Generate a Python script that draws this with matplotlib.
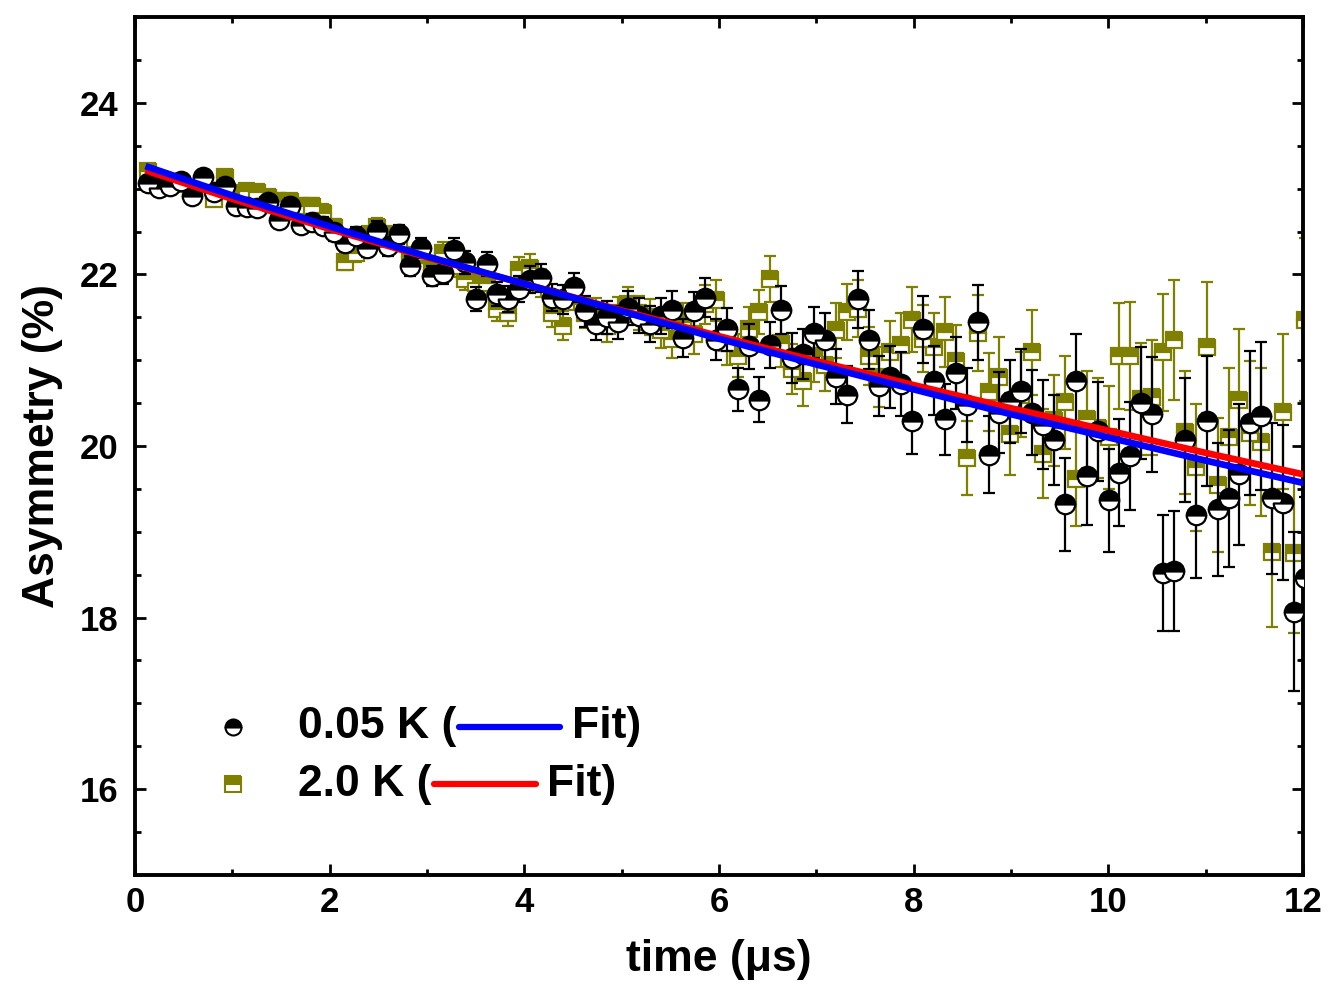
import matplotlib
matplotlib.use("Agg")
import matplotlib.pyplot as plt
from matplotlib.ticker import MultipleLocator
from matplotlib.lines import Line2D

# tiempos de los bins (us)
time_us = [0.137, 0.249, 0.361, 0.473, 0.585, 0.698, 0.810, 0.922, 1.034, 1.146,
           1.258, 1.370, 1.482, 1.594, 1.706, 1.819, 1.931, 2.043, 2.155, 2.267,
           2.379, 2.491, 2.603, 2.715, 2.827, 2.940, 3.052, 3.164, 3.276, 3.388,
           3.500, 3.612, 3.724, 3.836, 3.948, 4.061, 4.173, 4.285, 4.397, 4.509,
           4.621, 4.733, 4.845, 4.957, 5.069, 5.182, 5.294, 5.406, 5.518, 5.630,
           5.742, 5.854, 5.966, 6.078, 6.190, 6.303, 6.415, 6.527, 6.639, 6.751,
           6.863, 6.975, 7.087, 7.199, 7.311, 7.424, 7.536, 7.648, 7.760, 7.872,
           7.984, 8.096, 8.208, 8.320, 8.432, 8.545, 8.657, 8.769, 8.881, 8.993,
           9.105, 9.217, 9.329, 9.441, 9.553, 9.666, 9.778, 9.890, 10.002, 10.114,
           10.226, 10.338, 10.450, 10.562, 10.674, 10.787, 10.899, 11.011, 11.123, 11.235,
           11.347, 11.459, 11.571, 11.683, 11.795, 11.908, 12.020]

# asimetria a 0.05 K (%)
asym_005K = [23.07, 23.01, 23.03, 23.09, 22.91, 23.14, 22.96, 23.03, 22.80, 22.78,
             22.77, 22.84, 22.63, 22.80, 22.58, 22.61, 22.57, 22.49, 22.37, 22.45,
             22.31, 22.51, 22.33, 22.47, 22.10, 22.31, 21.98, 22.02, 22.29, 22.14,
             21.71, 22.12, 21.77, 21.71, 21.83, 21.94, 21.96, 21.73, 21.71, 21.85,
             21.57, 21.42, 21.50, 21.44, 21.61, 21.52, 21.42, 21.52, 21.59, 21.26,
             21.57, 21.73, 21.24, 21.36, 20.66, 21.16, 20.54, 21.18, 21.59, 21.03,
             21.07, 21.32, 21.24, 20.81, 20.60, 21.71, 21.24, 20.70, 20.80, 20.72,
             20.29, 21.36, 20.76, 20.31, 20.85, 20.48, 21.44, 19.90, 20.39, 20.52,
             20.64, 20.39, 20.25, 20.07, 19.32, 20.76, 19.65, 20.17, 19.37, 19.69,
             19.88, 20.50, 20.37, 18.52, 18.54, 20.07, 19.20, 20.29, 19.26, 19.39,
             19.67, 20.27, 20.35, 19.39, 19.34, 18.07, 18.46]

# asimetria a 2.0 K (%)
asym_2K = [23.20, 23.10, 23.05, 23.05, 23.00, 23.05, 22.88, 23.13, 22.95, 22.97,
           22.96, 22.90, 22.86, 22.85, 22.80, 22.80, 22.72, 22.55, 22.15, 22.25,
           22.45, 22.55, 22.45, 22.38, 22.20, 22.25, 22.05, 22.25, 22.10, 21.95,
           21.90, 21.90, 21.60, 21.55, 22.05, 22.08, 21.90, 21.55, 21.40, 21.75,
           21.55, 21.55, 21.40, 21.55, 21.65, 21.55, 21.50, 21.35, 21.25, 21.45,
           21.30, 21.65, 21.70, 21.20, 21.05, 21.36, 21.56, 21.95, 21.20, 20.90,
           20.76, 21.05, 20.95, 21.35, 21.56, 21.60, 21.05, 20.80, 21.10, 21.18,
           21.47, 21.25, 21.15, 21.33, 20.99, 19.86, 21.32, 20.63, 20.80, 20.14,
           20.60, 21.09, 19.91, 20.30, 20.51, 19.62, 20.31, 20.21, 20.10, 21.05,
           21.05, 20.55, 20.57, 21.09, 21.24, 20.16, 19.75, 21.15, 19.55, 20.11,
           20.54, 20.15, 20.05, 18.77, 20.40, 18.75, 21.47]

# barras de error (%)
err = [0.06, 0.07, 0.07, 0.07, 0.07, 0.07, 0.07, 0.08, 0.08, 0.08,
       0.08, 0.08, 0.09, 0.09, 0.09, 0.09, 0.10, 0.10, 0.10, 0.10,
       0.11, 0.11, 0.11, 0.11, 0.12, 0.12, 0.12, 0.13, 0.13, 0.13,
       0.14, 0.14, 0.14, 0.15, 0.15, 0.16, 0.16, 0.16, 0.17, 0.17,
       0.18, 0.18, 0.19, 0.19, 0.20, 0.20, 0.21, 0.21, 0.22, 0.22,
       0.23, 0.23, 0.24, 0.25, 0.25, 0.26, 0.26, 0.27, 0.28, 0.29,
       0.29, 0.30, 0.31, 0.32, 0.33, 0.33, 0.34, 0.35, 0.36, 0.37,
       0.38, 0.39, 0.40, 0.41, 0.42, 0.43, 0.44, 0.45, 0.47, 0.48,
       0.49, 0.50, 0.52, 0.53, 0.54, 0.55, 0.57, 0.58, 0.60, 0.62,
       0.63, 0.65, 0.67, 0.68, 0.70, 0.72, 0.74, 0.76, 0.78, 0.80,
       0.82, 0.84, 0.86, 0.88, 0.90, 0.93, 0.95]

# curvas de ajuste
fit_t = [0.14, 1, 2, 3, 4, 5, 6, 7, 8, 9, 10, 11, 12]
fit_005K = [23.25, 22.92, 22.56, 22.21, 21.89, 21.57, 21.25, 20.95, 20.66, 20.37, 20.10, 19.83, 19.57]
fit_2K = [23.20, 22.88, 22.53, 22.20, 21.89, 21.58, 21.28, 20.99, 20.71, 20.44, 20.18, 19.92, 19.67]

OLIVE = "#808000"

plt.rcParams["font.family"] = ["Liberation Sans", "DejaVu Sans"]
plt.rcParams["font.weight"] = "bold"

fig = plt.figure(figsize=(13.34, 9.96), dpi=100)
ax = fig.add_axes([0.1012, 0.1215, 0.8756, 0.8614])

# datos 2.0 K (detras)
ax.errorbar(time_us, asym_2K, yerr=err, fmt="none", ecolor=OLIVE, elinewidth=1.6,
            capsize=4.5, capthick=1.6, zorder=1)
ax.plot(time_us, asym_2K, ls="none", marker="s", ms=11.5, fillstyle="top",
        mfc=OLIVE, mfcalt="white", mec=OLIVE, mew=1.6, zorder=2)

# datos 0.05 K
ax.errorbar(time_us, asym_005K, yerr=err, fmt="none", ecolor="black", elinewidth=1.6,
            capsize=4.5, capthick=1.6, zorder=3)
ax.plot(time_us, asym_005K, ls="none", marker="o", ms=14, fillstyle="top",
        mfc="black", mfcalt="white", mec="black", mew=1.6, zorder=4)

# ajustes
ax.plot(fit_t, fit_2K, color="red", lw=4.8, zorder=5)
ax.plot(fit_t, fit_005K, color="blue", lw=4.8, zorder=6)

ax.set_xlim(0, 12)
ax.set_ylim(15, 25)
ax.xaxis.set_major_locator(MultipleLocator(2))
ax.xaxis.set_minor_locator(MultipleLocator(1))
ax.yaxis.set_major_locator(MultipleLocator(2))
ax.yaxis.set_minor_locator(MultipleLocator(0.5))
ax.tick_params(which="both", direction="in", top=True, right=True, width=2)
ax.tick_params(which="major", length=8, labelsize=25)
ax.tick_params(axis="x", which="major", pad=8)
ax.tick_params(axis="y", which="major", pad=12)
ax.tick_params(which="minor", length=4)
for sp in ax.spines.values():
    sp.set_linewidth(2.8)

ax.set_xlabel("time (\u03bcs)", fontsize=32, fontweight="bold", labelpad=14)
ax.set_ylabel("Asymmetry (%)", fontsize=32, fontweight="bold", labelpad=12)

# leyenda hecha a mano
fig.canvas.draw()
r = fig.canvas.get_renderer()


def legend_row(y, label, color, marker, mfc, mec):
    ax.plot([0.0839], [y], transform=ax.transAxes, ls="none", marker=marker, ms=11.5,
            fillstyle="top", mfc=mfc, mfcalt="white", mec=mec, mew=1.5, clip_on=False)
    t1 = ax.text(0.1396, y, label, transform=ax.transAxes, fontsize=32,
                 fontweight="bold", va="center", ha="left")
    bb = t1.get_window_extent(renderer=r).transformed(ax.transAxes.inverted())
    x0 = bb.x1 + 0.002
    x1 = x0 + 0.087
    ax.add_line(Line2D([x0, x1], [y, y], transform=ax.transAxes, color=color,
                       lw=4.5, solid_capstyle="round"))
    ax.text(x1 + 0.01, y, "Fit)", transform=ax.transAxes, fontsize=32,
            fontweight="bold", va="center", ha="left")


legend_row(0.1725, "0.05 K (", "blue", "o", "black", "black")
legend_row(0.106, "2.0 K (", "red", "s", OLIVE, OLIVE)

fig.savefig("out.png", dpi=100)
